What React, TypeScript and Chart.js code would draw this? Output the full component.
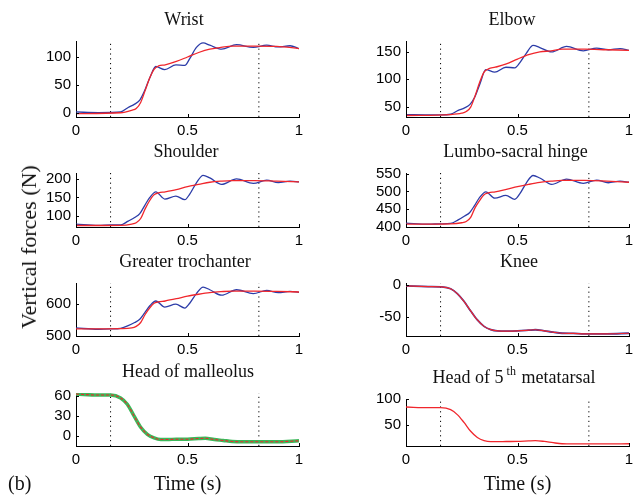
import React, { useEffect, useRef } from "react";
import { Chart, registerables } from "chart.js";

Chart.register(...registerables);

// ---------- data ----------
const xTicks = [0, 0.5, 1];
const eventTimes = [0.155, 0.82];

const blueTime = [0, 0.1, 0.155, 0.2, 0.234, 0.263, 0.286, 0.308, 0.331, 0.358, 0.398, 0.448, 0.488, 0.51, 0.54, 0.57, 0.6, 0.653, 0.72, 0.795, 0.855, 0.907, 0.96, 1];
const redTime = [0, 0.2, 0.25, 0.27, 0.29, 0.31, 0.33, 0.35, 0.37, 0.4, 0.45, 0.5, 0.55, 0.6, 0.65, 0.7, 0.8, 0.9, 1];
const footTime = [0, 0.1, 0.155, 0.2, 0.23, 0.26, 0.29, 0.32, 0.35, 0.38, 0.41, 0.45, 0.5, 0.55, 0.58, 0.62, 0.66, 0.7, 0.75, 0.8, 0.9, 1];

const wristBlue = [2, 0.8, 1, 2, 10, 16, 23, 40, 63, 83, 77.5, 86, 85, 97, 117, 125, 121, 114, 122, 117, 121, 118, 120, 115];
const wristRed = [-1, 0.6, 5, 8, 19, 40, 62, 78, 84, 86, 92, 100, 108, 114, 117, 119.5, 119.5, 119, 115];

const elbowBlue = [35.5, 35, 35, 36, 43, 47.6, 53.6, 67, 91, 117.5, 113, 122, 121, 130, 148, 162, 158, 150, 160, 152, 157, 154, 156, 153];
const elbowRed = [33.7, 35.5, 38, 41, 49, 70, 94, 113, 119, 122, 128, 137, 145, 150, 152, 155, 155, 154, 153];

const shoulderBlue = [78, 74.6, 75.5, 75.5, 86, 95.6, 106, 128, 150, 165, 145.6, 153.5, 144, 159, 189.5, 209.6, 202.6, 185, 200, 188, 196.5, 190, 194, 192];
const shoulderRed = [74, 74.6, 78, 81.6, 93, 119, 141, 157, 162, 165, 171, 179, 185, 191, 194, 195.6, 195.6, 194, 192];

const lumboBlue = [411, 408, 409, 410, 420, 431, 441, 461, 484, 499, 481, 489, 478, 493, 524.5, 545, 538, 520, 535, 523, 532, 524.5, 529, 526];
const lumboRed = [408, 409, 412, 415.5, 427, 454.5, 474.5, 491, 496, 499, 506, 513.6, 520, 525.5, 529, 531, 531, 529, 526];

const trochBlue = [525, 521, 522, 524, 532, 542, 552, 572, 594, 609, 590, 599, 587, 602, 632, 652, 644, 627, 644, 632, 642, 635, 639, 636];
const trochRed = [522, 523, 525, 530, 542, 567, 587, 602, 606, 609, 616, 624, 630, 635, 638, 640, 640, 639, 637];

const kneeBlue = [-2, -3, -3.5, -6.4, -14, -26, -41, -55, -65, -70, -72, -72.3, -72, -71, -70.3, -72, -74, -75.7, -76, -76.7, -76.7, -75.7];
const kneeRed = [-2, -3, -3.5, -6.4, -14, -26, -41, -55, -65, -70, -72, -72.3, -72, -71, -70.3, -72, -74, -75.7, -76, -76.7, -76.7, -75.7];

const malleolusGreen = [63.4, 62, 62, 57.6, 48, 30.7, 13.7, 3, -2.4, -4.9, -4.9, -4.4, -4.4, -3.4, -3, -4.9, -6.3, -7.8, -8.3, -8.3, -8.3, -6.8];
const malleolusRed = [63.4, 62, 62, 57.6, 48, 30.7, 13.7, 3, -2.4, -4.9, -4.9, -4.4, -4.4, -3.4, -3, -4.9, -6.3, -7.8, -8.3, -8.3, -8.3, -6.8];

const metatarsalRed = [84.6, 83.3, 83.3, 79.6, 70, 55, 38, 26, 20, 18, 18, 18.3, 18.5, 19.5, 20, 18.5, 16, 14, 13.6, 13.6, 13.6, 14];

const wristTicks = [0, 50, 100];
const elbowTicks = [50, 100, 150];
const shoulderTicks = [100, 150, 200];
const lumboTicks = [400, 450, 500, 550];
const trochTicks = [500, 600];
const kneeTicks = [-50, 0];
const malleolusTicks = [0, 30, 60];
const metatarsalTicks = [50, 100];

// ---------- styling ----------
const BLUE = "#2c3ca8";
const RED = "#f0262c";
const GREEN = "#3cb85a";
const PAD_TOP = 12;
const XAXIS_H = 30;
const YAXIS_W = 76;
const TICK_FONT = { size: 15, family: "'Liberation Sans', Arial, sans-serif" };
const SERIF = "'Liberation Serif', 'Times New Roman', serif";

type Series = { t: number[]; v: number[]; color: string; width: number; dash?: number[]; order: number };
type Panel = {
  title: React.ReactNode;
  col: 0 | 1;
  top: number;
  height: number;
  yMin: number;
  yMax: number;
  yTicks: number[];
  series: Series[];
  titleX: number;
};

const panels: Panel[] = [
  {
    title: "Wrist", col: 0, top: 39, height: 78, yMin: -7, yMax: 128.5, yTicks: wristTicks, titleX: 184,
    series: [
      { t: blueTime, v: wristBlue, color: BLUE, width: 1.3, order: 2 },
      { t: redTime, v: wristRed, color: RED, width: 1.3, order: 1 },
    ],
  },
  {
    title: "Elbow", col: 1, top: 39, height: 78, yMin: 31, yMax: 170, yTicks: elbowTicks, titleX: 512,
    series: [
      { t: blueTime, v: elbowBlue, color: BLUE, width: 1.3, order: 2 },
      { t: redTime, v: elbowRed, color: RED, width: 1.3, order: 1 },
    ],
  },
  {
    title: "Shoulder", col: 0, top: 171, height: 56, yMin: 70, yMax: 216, yTicks: shoulderTicks, titleX: 186,
    series: [
      { t: blueTime, v: shoulderBlue, color: BLUE, width: 1.3, order: 2 },
      { t: redTime, v: shoulderRed, color: RED, width: 1.3, order: 1 },
    ],
  },
  {
    title: "Lumbo-sacral hinge", col: 1, top: 171, height: 56, yMin: 400, yMax: 552, yTicks: lumboTicks, titleX: 515.5,
    series: [
      { t: blueTime, v: lumboBlue, color: BLUE, width: 1.3, order: 2 },
      { t: redTime, v: lumboRed, color: RED, width: 1.3, order: 1 },
    ],
  },
  {
    title: "Greater trochanter", col: 0, top: 281, height: 55, yMin: 500, yMax: 665, yTicks: trochTicks, titleX: 185,
    series: [
      { t: blueTime, v: trochBlue, color: BLUE, width: 1.3, order: 2 },
      { t: redTime, v: trochRed, color: RED, width: 1.3, order: 1 },
    ],
  },
  {
    title: "Knee", col: 1, top: 281, height: 55, yMin: -80, yMax: 2.5, yTicks: kneeTicks, titleX: 519,
    series: [
      { t: footTime, v: kneeBlue, color: BLUE, width: 1.8, order: 2 },
      { t: footTime, v: kneeRed, color: RED, width: 1.2, order: 1 },
    ],
  },
  {
    title: "Head of malleolus", col: 0, top: 391, height: 55, yMin: -14.6, yMax: 65, yTicks: malleolusTicks, titleX: 188,
    series: [
      { t: footTime, v: malleolusGreen, color: GREEN, width: 3.5, order: 3 },
      { t: footTime, v: malleolusRed, color: RED, width: 1.1, dash: [3, 2], order: 1 },
    ],
  },
  {
    title: (
      <>
        Head of 5<span style={{ fontSize: 12, position: "relative", top: -8, marginLeft: 3, marginRight: 1 }}>th</span> metatarsal
      </>
    ),
    col: 1, top: 397, height: 49, yMin: 9.7, yMax: 100, yTicks: metatarsalTicks, titleX: 514,
    series: [{ t: footTime, v: metatarsalRed, color: RED, width: 1.3, order: 1 }],
  },
];

const inwardTicks = {
  id: "inwardTicks",
  afterDraw(chart: any) {
    const { ctx, chartArea, scales } = chart;
    const { left, bottom } = chartArea;
    ctx.save();
    ctx.strokeStyle = "#000";
    ctx.lineWidth = 1;
    ctx.beginPath();
    scales.y.ticks.forEach((t: any) => {
      const py = Math.round(scales.y.getPixelForValue(t.value)) + 0.5;
      ctx.moveTo(left, py);
      ctx.lineTo(left + 3, py);
    });
    scales.x.ticks.forEach((t: any) => {
      const px = Math.round(scales.x.getPixelForValue(t.value)) + 0.5;
      ctx.moveTo(px, bottom);
      ctx.lineTo(px, bottom - 3);
    });
    ctx.stroke();
    ctx.restore();
  },
};

function PanelChart({ p }: { p: Panel }) {
  const ref = useRef<HTMLCanvasElement>(null);
  const canvasLeft = p.col === 0 ? 0 : 330;
  const canvasWidth = p.col === 0 ? 320 : 309;
  const padRight = p.col === 0 ? 21 : 10;
  const canvasHeight = PAD_TOP + p.height + XAXIS_H;

  useEffect(() => {
    if (!ref.current) return;
    const datasets: any[] = [
      ...p.series.map((s) => ({
        data: s.t.map((x, i) => ({ x, y: s.v[i] })),
        borderColor: s.color,
        borderWidth: s.width,
        borderDash: s.dash || [],
        pointRadius: 0,
        cubicInterpolationMode: "monotone",
        fill: false,
        order: s.order,
      })),
      ...eventTimes.map((et) => ({
        data: [
          { x: et, y: p.yMin },
          { x: et, y: p.yMax },
        ],
        borderColor: "#000",
        borderWidth: 1,
        borderDash: [1.2, 3.6],
        pointRadius: 0,
        tension: 0,
        fill: false,
        order: 5,
      })),
    ];
    const chart = new Chart(ref.current, {
      type: "line",
      data: { datasets },
      options: {
        animation: false,
        responsive: false,
        maintainAspectRatio: false,
        layout: { padding: { top: PAD_TOP, right: padRight, left: 0, bottom: 0 } },
        plugins: { legend: { display: false }, tooltip: { enabled: false }, title: { display: false } },
        scales: {
          x: {
            type: "linear",
            min: 0,
            max: 1,
            grid: { display: false, drawTicks: false },
            border: { display: true, color: "#000", width: 1 },
            ticks: {
              padding: 5,
              color: "#000",
              font: TICK_FONT,
              maxRotation: 0,
              autoSkip: false,
              callback: (v: any) => String(v),
            },
            afterBuildTicks: (s: any) => {
              s.ticks = xTicks.map((v) => ({ value: v }));
            },
            afterFit: (s: any) => {
              s.height = XAXIS_H;
            },
          },
          y: {
            type: "linear",
            min: p.yMin,
            max: p.yMax,
            grid: { display: false, drawTicks: false },
            border: { display: true, color: "#000", width: 1 },
            ticks: {
              padding: 5,
              color: "#000",
              font: TICK_FONT,
              autoSkip: false,
              callback: (v: any) => String(v),
            },
            afterBuildTicks: (s: any) => {
              s.ticks = p.yTicks.map((v) => ({ value: v }));
            },
            afterFit: (s: any) => {
              s.width = YAXIS_W;
            },
          },
        },
      } as any,
      plugins: [inwardTicks],
    });
    return () => chart.destroy();
  }, []);

  return (
    <>
      <canvas
        ref={ref}
        width={canvasWidth}
        height={canvasHeight}
        style={{ position: "absolute", left: canvasLeft, top: p.top - PAD_TOP, width: canvasWidth, height: canvasHeight }}
      />
      <div
        style={{
          position: "absolute",
          left: p.titleX,
          top: p.top - 29,
          transform: "translateX(-50%)",
          font: `18px ${SERIF}`,
          lineHeight: "18px",
          whiteSpace: "nowrap",
          color: "#111",
        }}
      >
        {p.title}
      </div>
    </>
  );
}

export default function App() {
  return (
    <div style={{ position: "absolute", left: 0, top: 0, width: 639, height: 496, background: "#fff", overflow: "hidden" }}>
      {panels.map((p, i) => (
        <PanelChart key={i} p={p} />
      ))}
      <div
        style={{
          position: "absolute",
          left: 29,
          top: 247,
          transform: "translate(-50%, -50%) rotate(-90deg)",
          font: `22px ${SERIF}`,
          lineHeight: "22px",
          whiteSpace: "nowrap",
          color: "#111",
        }}
      >
        Vertical forces (N)
      </div>
      <div style={{ position: "absolute", left: 187.5, top: 473, transform: "translateX(-50%)", font: `20px ${SERIF}`, lineHeight: "20px", whiteSpace: "nowrap", color: "#111" }}>
        Time (s)
      </div>
      <div style={{ position: "absolute", left: 517.5, top: 473, transform: "translateX(-50%)", font: `20px ${SERIF}`, lineHeight: "20px", whiteSpace: "nowrap", color: "#111" }}>
        Time (s)
      </div>
      <div style={{ position: "absolute", left: 8, top: 473, font: `20px ${SERIF}`, lineHeight: "20px", whiteSpace: "nowrap", color: "#111" }}>
        (b)
      </div>
    </div>
  );
}
